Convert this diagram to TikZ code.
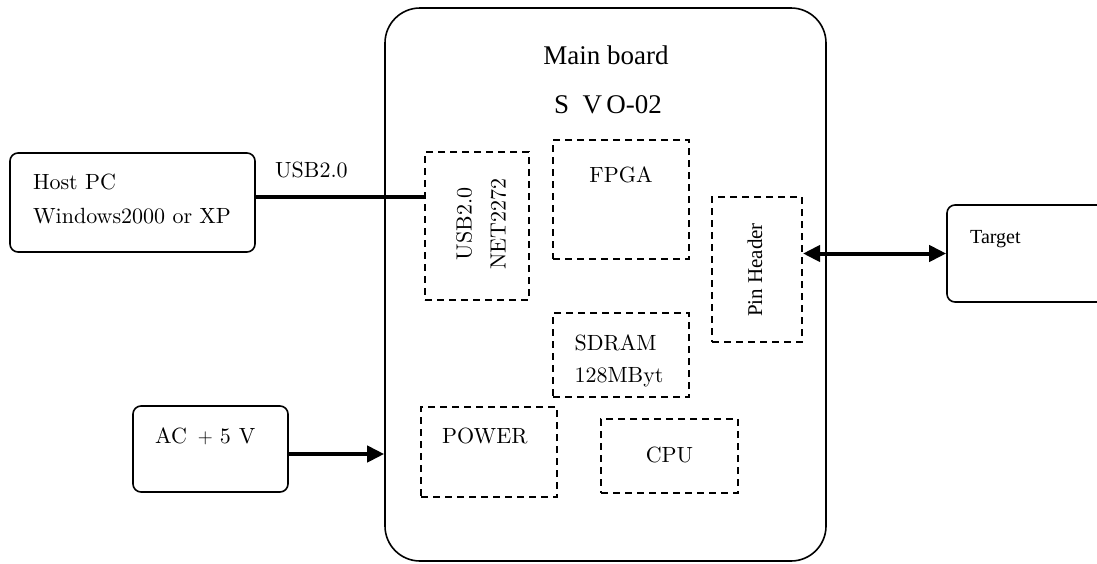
\documentclass[tikz,border=0pt]{standalone}
\usepackage{fontspec}
\setmainfont{lmroman10-regular}[Extension=.otf]
\newfontfamily\timesfont{Liberation Serif}
\usetikzlibrary{arrows.meta}

\begin{document}
\begin{tikzpicture}[x=1pt, y=-1pt,
    box/.style={draw, line width=1.6pt, rounded corners=8pt, inner sep=0pt},
    dbox/.style={draw, line width=2pt, dash pattern=on 7pt off 5pt, inner sep=0pt},
    txt/.style={inner sep=0pt, font=\fontsize{22}{34}\selectfont},
    ttxt/.style={inner sep=0pt, font=\timesfont\fontsize{20}{24}\selectfont},
    bus/.style={line width=4pt},
    tip/.tip={Triangle[length=17pt, width=16pt]}]
  \clip (0,0) rectangle (1097,563);

  \node[box, rounded corners=35pt, minimum width=441pt, minimum height=553pt] (board) at (605.5,284.5) {};
  \node[box, minimum width=245pt, minimum height=99pt] (host) at (132.5,202.5) {};
  \node[box, minimum width=183pt, minimum height=97pt] (target) at (1038.5,253.5) {};
  \node[box, minimum width=155pt, minimum height=86pt] (ac) at (210.5,449) {};

  \node[dbox, minimum width=104pt, minimum height=148pt] (usb) at (477,226) {};
  \node[dbox, minimum width=136pt, minimum height=119pt] (fpga) at (621,199.5) {};
  \node[dbox, minimum width=90pt, minimum height=145pt] (pin) at (757,269.5) {};
  \node[dbox, minimum width=136pt, minimum height=84pt] (sdram) at (621,355) {};
  \node[dbox, minimum width=136pt, minimum height=90pt] (power) at (489,452) {};
  \node[dbox, minimum width=137pt, minimum height=74pt] (cpu) at (669.5,456) {};

  % labels
  \node[ttxt, font=\timesfont\fontsize{27}{32}\selectfont, anchor=base] (boardname) at (606,64) {Main board};
  \node[ttxt, font=\timesfont\fontsize{27}{32}\selectfont, anchor=base] (boardtype) at (608,113) {S\enspace V\,O-02};
  \node[txt, align=left] (hosttxt) at (132,198.5) {Host PC\\Windows2000 or XP};
  \node[txt, anchor=base west] (bustxt) at (275,177) {USB2.0};
  \node[txt, align=center, rotate=90] (usbtxt) at (481,224) {USB2.0\\NET2272};
  \node[txt, anchor=base] (fpgatxt) at (621,182) {FPGA};
  \node[ttxt, rotate=90, font=\timesfont\fontsize{21}{24}\selectfont] (pintxt) at (755,270) {Pin Header};
  \node[ttxt, anchor=base west] (targettxt) at (970,243) {Target};
  \node[txt, align=left, font=\fontsize{22}{32}\selectfont] (sdramtxt) at (619,361) {SDRAM\\128MByt};
  \node[txt, anchor=base west] (powertxt) at (442,443) {POWER};
  \node[txt, anchor=base] (cputxt) at (669.5,462) {CPU};
  \node[txt, anchor=base west] (actxt) at (155,443) {AC\hspace{11pt}$+$\hspace{7pt}5\hspace{8pt}V};

  \draw[bus] ([yshift=5.5pt]host.east) -- ([yshift=5.5pt]host.east -| usb.west);
  \draw[bus, tip-tip] (target.west -| pin.east) -- (target.west);
  \draw[bus, -tip] ([yshift=-5pt]ac.east) -- ([yshift=-5pt]ac.east -| board.west);
\end{tikzpicture}
\end{document}
